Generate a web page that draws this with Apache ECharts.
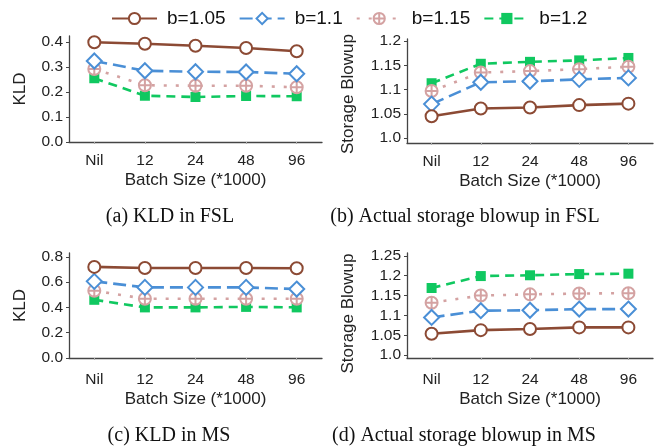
<!DOCTYPE html>
<html>
<head>
<meta charset="utf-8">
<script src="https://cdn.jsdelivr.net/npm/echarts@6/dist/echarts.min.js"></script>
<style>
  html, body { margin: 0; padding: 0; background: #fff; }
  #chart { width: 657px; height: 448px; }
</style>
</head>
<body>
<div id="chart"></div>
<script>
// categories and series names
const batchSizes = ['Nil', '12', '24', '48', '96'];
const seriesNames = ['b=1.05', 'b=1.1', 'b=1.15', 'b=1.2'];

// (a) KLD in FSL
const kldFsl = [
  [0.399, 0.393, 0.385, 0.376, 0.363],
  [0.324, 0.285, 0.281, 0.280, 0.273],
  [0.292, 0.227, 0.225, 0.225, 0.219],
  [0.255, 0.185, 0.180, 0.184, 0.183]
];
// (b) Actual storage blowup in FSL
const blowupFsl = [
  [1.045, 1.061, 1.063, 1.068, 1.071],
  [1.070, 1.115, 1.117, 1.121, 1.124],
  [1.097, 1.135, 1.138, 1.142, 1.147],
  [1.113, 1.153, 1.157, 1.160, 1.165]
];
// (c) KLD in MS
const kldMs = [
  [0.720, 0.712, 0.712, 0.712, 0.710],
  [0.606, 0.558, 0.558, 0.558, 0.545],
  [0.532, 0.468, 0.468, 0.468, 0.468],
  [0.460, 0.400, 0.400, 0.404, 0.400]
];
// (d) Actual storage blowup in MS
const blowupMs = [
  [1.054, 1.063, 1.066, 1.070, 1.070],
  [1.095, 1.112, 1.113, 1.116, 1.116],
  [1.132, 1.150, 1.153, 1.155, 1.156],
  [1.169, 1.199, 1.201, 1.204, 1.205]
];

// tick labels
const kldFslTicks = [0, 0.1, 0.2, 0.3, 0.4];
const kldMsTicks = [0, 0.2, 0.4, 0.6, 0.8];
const blowupFslTicks = [1.0, 1.05, 1.1, 1.15, 1.2];
const blowupMsTicks = [1.0, 1.05, 1.1, 1.15, 1.2, 1.25];

const captions = [
  '(a) KLD in FSL',
  '(b) Actual storage blowup in FSL',
  '(c) KLD in MS',
  '(d) Actual storage blowup in MS'
];

const colors = ['#8c4a34', '#4a8fd6', '#d4a2a2', '#10c860'];
const circlePlus = 'path://M12,2A10,10,0,1,1,12,22A10,10,0,1,1,12,2ZM2,12L22,12M12,2L12,22';
const symbols = ['emptyCircle', 'emptyDiamond', circlePlus, 'rect'];
const symbolSizes = [12, 15, 12, 10];
const dashes = ['solid', [13, 6], [3, 9], [9, 6]];

const sansFont = '"Liberation Sans", Arial, sans-serif';
const serifFont = '"Liberation Serif", "DejaVu Serif", serif';

const chart = echarts.init(document.getElementById('chart'));

const grids = [
  { left: 69, width: 253, top: 36, height: 106 },
  { left: 407, width: 246, top: 39, height: 104 },
  { left: 69, width: 253, top: 253, height: 105 },
  { left: 407, width: 246, top: 253, height: 105 }
];

function xAxisFor(i) {
  const lower = i >= 2 ? 3 : 0;
  return {
    type: 'category',
    gridIndex: i,
    data: batchSizes,
    name: 'Batch Size (*1000)',
    nameLocation: 'middle',
    nameGap: 30 + lower,
    nameTextStyle: { fontFamily: sansFont, fontSize: 17, color: '#222' },
    axisLine: { lineStyle: { color: '#444', width: 1.3 } },
    axisTick: { show: true, alignWithLabel: true, length: 2, lineStyle: { color: '#aaa' } },
    axisLabel: { fontFamily: sansFont, fontSize: 15.5, color: '#222', margin: 11 + lower },
    splitLine: { show: false }
  };
}

function yAxisFor(i, name, min, max, ticks, gap, namePad) {
  return {
    type: 'value',
    gridIndex: i,
    min: min,
    max: max,
    name: name,
    nameLocation: 'middle',
    nameGap: gap,
    nameTextStyle: { fontFamily: sansFont, fontSize: 17, color: '#222', padding: namePad },
    axisLine: { show: true, lineStyle: { color: '#444', width: 1.3 } },
    axisTick: { show: true, length: 3, customValues: ticks, lineStyle: { color: '#444' } },
    axisLabel: {
      fontFamily: sansFont, fontSize: 15.5, color: '#222', margin: 6,
      customValues: ticks,
      formatter: (v) => (Math.abs(v - 1) < 1e-9 || Math.abs(v) < 1e-9) ? v.toFixed(1) : String(+v.toFixed(2))
    },
    splitLine: { show: false }
  };
}

const panels = [kldFsl, blowupFsl, kldMs, blowupMs];
const series = [];
panels.forEach((panel, g) => {
  panel.forEach((vals, k) => {
    series.push({
      name: seriesNames[k],
      type: 'line',
      xAxisIndex: g,
      yAxisIndex: g,
      data: vals,
      symbol: symbols[k],
      symbolSize: symbolSizes[k],
      showAllSymbol: true,
      z: 10 - k,
      lineStyle: { color: colors[k], width: 2.6, type: dashes[k] },
      itemStyle: k === 2
        ? { color: '#fff', borderColor: colors[k], borderWidth: 2 }
        : { color: colors[k], borderWidth: 2 },
      emphasis: { disabled: true }
    });
  });
});

const option = {
  animation: false,
  backgroundColor: '#fff',
  legend: {
    data: seriesNames,
    left: 106,
    top: 4,
    itemWidth: 45,
    itemHeight: 14,
    itemGap: 13,
    textStyle: { fontFamily: sansFont, fontSize: 19, color: '#111', padding: [0, 0, 0, 5] }
  },
  grid: grids,
  xAxis: [0, 1, 2, 3].map(xAxisFor),
  yAxis: [
    yAxisFor(0, 'KLD', 0, 0.424, kldFslTicks, 40, 0),
    yAxisFor(1, 'Storage Blowup', 0.99, 1.204, blowupFslTicks, 50, [0, 6, 0, 0]),
    yAxisFor(2, 'KLD', 0, 0.83, kldMsTicks, 40, 0),
    yAxisFor(3, 'Storage Blowup', 0.993, 1.257, blowupMsTicks, 50, [0, 16, 0, 0])
  ],
  graphic: [
    { type: 'text', x: 170, y: 217, style: { text: captions[0], font: '20px ' + serifFont, fill: '#111', align: 'center', verticalAlign: 'middle' } },
    { type: 'text', x: 465, y: 217, style: { text: captions[1], font: '20px ' + serifFont, fill: '#111', align: 'center', verticalAlign: 'middle' } },
    { type: 'text', x: 169, y: 436, style: { text: captions[2], font: '20px ' + serifFont, fill: '#111', align: 'center', verticalAlign: 'middle' } },
    { type: 'text', x: 464, y: 436, style: { text: captions[3], font: '20px ' + serifFont, fill: '#111', align: 'center', verticalAlign: 'middle' } }
  ],
  series: series
};

chart.setOption(option);
</script>
</body>
</html>
